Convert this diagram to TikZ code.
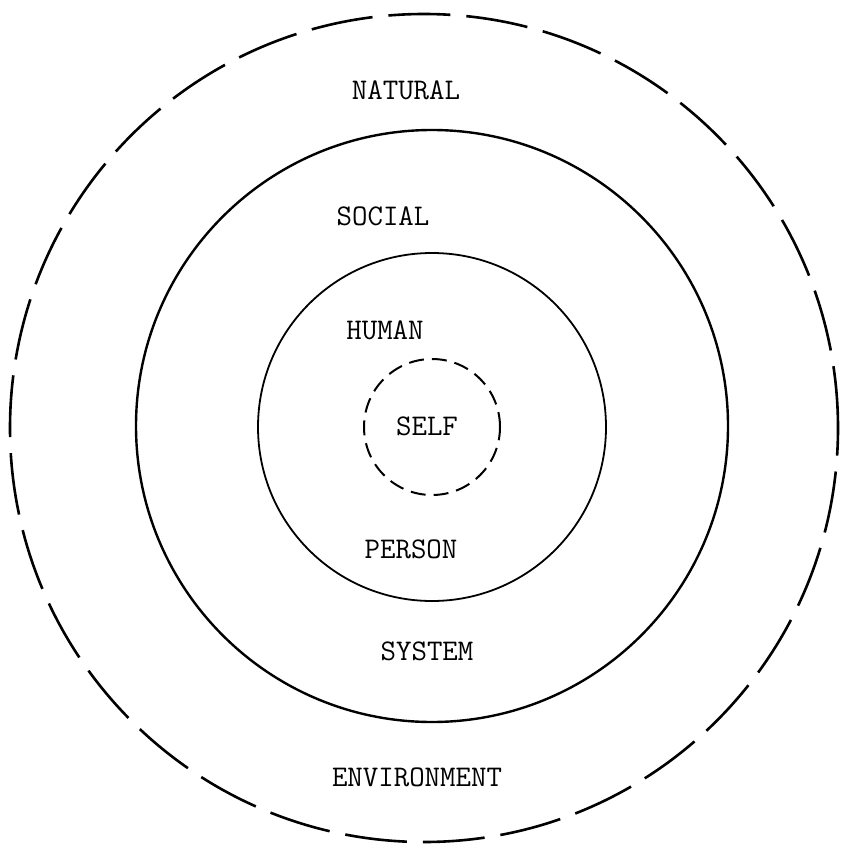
\documentclass[tikz,border=0pt]{standalone}
\begin{document}
\begin{tikzpicture}[x=1pt,y=-1pt,
  ring/.style={circle,draw=black,inner sep=0pt},
  label/.style={font=\fontsize{30}{36}\selectfont\ttfamily,inner sep=0pt,anchor=center}]
\useasboundingbox (0,0) rectangle (844,850);
\node[ring,minimum size=828pt,line width=2.6pt,dash pattern=on 62pt off 16pt] (outer) at (424,428) {};
\node[ring,minimum size=592pt,line width=2.4pt] (social) at (432,426) {};
\node[ring,minimum size=348pt,line width=1.8pt] (human) at (432,427) {};
\node[ring,minimum size=136pt,line width=2pt,dash pattern=on 15pt off 8pt] (self) at (432,427) {};
\node[label] (natural) at (406,90) {NATURAL};
\node[label] (soc) at (383,216) {SOCIAL};
\node[label] (hum) at (385,330) {HUMAN};
\node[label] (slf) at (427,426) {SELF};
\node[label] (person) at (411,549) {PERSON};
\node[label] (system) at (427,651) {SYSTEM};
\node[label] (env) at (417,777) {ENVIRONMENT};
\end{tikzpicture}
\end{document}
